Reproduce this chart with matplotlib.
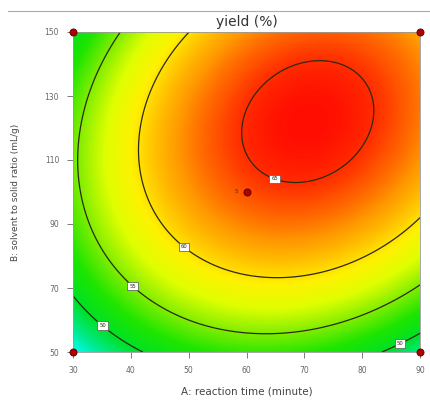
import matplotlib
matplotlib.use('Agg')
import matplotlib.pyplot as plt
import numpy as np
from matplotlib.colors import LinearSegmentedColormap

# quadratic model in coded units: A=(time-60)/30, B=(ratio-100)/50
coef_names = ['b0', 'A', 'B', 'AB', 'A2', 'B2']
coef_vals = [64.22, 3.50, 4.82, 2.33, -6.41, -6.41]

contour_levels = [50, 55, 60, 65]
label_spots = [(65.1, 105.3), (49.4, 83.4), (40.5, 71.0), (35.2, 58.4), (86.4, 53.1)]

design_x = [30, 90, 30, 90, 60]
design_y = [50, 50, 150, 150, 100]
center_reps = '5'

x_ticks = [30, 40, 50, 60, 70, 80, 90]
y_ticks = [50, 70, 90, 110, 130, 150]

c = dict(zip(coef_names, coef_vals))


def model(t, r):
    a = (t - 60) / 30.0
    b = (r - 100) / 50.0
    return c['b0'] + c['A'] * a + c['B'] * b + c['AB'] * a * b + c['A2'] * a ** 2 + c['B2'] * b ** 2


t = np.linspace(30, 90, 300)
r = np.linspace(50, 150, 300)
T, R = np.meshgrid(t, r)
Y = model(T, R)

nodes = [(45.4, (0.0, 1.0, 1.0)), (47.5, (0.0, 0.92, 0.6)), (50.0, (0.0, 0.88, 0.15)),
         (52.5, (0.12, 0.9, 0.0)), (55.0, (0.5, 0.93, 0.0)), (57.5, (0.88, 1.0, 0.0)),
         (59.5, (1.0, 0.95, 0.0)), (62.5, (1.0, 0.6, 0.0)), (64.2, (1.0, 0.33, 0.0)),
         (65.0, (1.0, 0.18, 0.0)), (65.9, (1.0, 0.05, 0.0))]
vmin, vmax = nodes[0][0], nodes[-1][0]
cmap = LinearSegmentedColormap.from_list(
    'de', [((v - vmin) / (vmax - vmin), col) for v, col in nodes])

fig = plt.figure(figsize=(4.30, 4.01), dpi=100)
ax = fig.add_axes([73 / 430, 49 / 401, 347 / 430, 320 / 401])

ax.pcolormesh(T, R, Y, cmap=cmap, vmin=vmin, vmax=vmax, shading='gouraud')
cs = ax.contour(T, R, Y, levels=contour_levels, colors='#2a2a10', linewidths=0.9)
lbls = ax.clabel(cs, fmt='%d', fontsize=3.8, manual=label_spots, inline=False)
for lb in lbls:
    lb.set_rotation(0)
    lb.set_bbox(dict(boxstyle='square,pad=0.35', fc='white', ec='#555555', lw=0.5))

ax.scatter(design_x, design_y, s=26, color='#b00000', edgecolors='#500000',
           linewidths=0.6, zorder=5, clip_on=False)
ax.text(58.6, 100, center_reps, fontsize=4, ha='right', va='center', color='#333333')

ax.set_xlim(30, 90)
ax.set_ylim(50, 150)
ax.set_xticks(x_ticks)
ax.set_yticks(y_ticks)
ax.tick_params(labelsize=5.5, colors='#666666', length=4, width=0.6, pad=6)
for sp in ax.spines.values():
    sp.set_color('#999999')
    sp.set_linewidth(0.6)

ax.set_xlabel('A: reaction time (minute)', fontsize=7.5, color='#444444', labelpad=8)
ax.set_ylabel('B: solvent to solid ratio (mL/g)', fontsize=6.5, color='#444444', labelpad=18)
ax.set_title('yield (%)', fontsize=10, color='#333333', pad=4)

fig.add_artist(plt.Line2D([8 / 430, 1.0], [1 - 10.5 / 401, 1 - 10.5 / 401], color='#aaaaaa', lw=0.8))

fig.savefig('out.png', dpi=100)
